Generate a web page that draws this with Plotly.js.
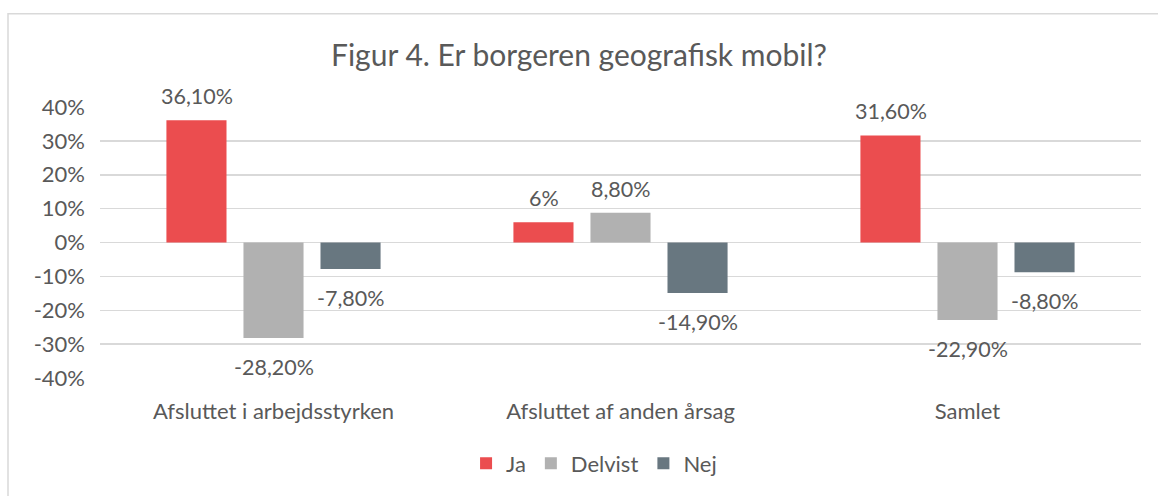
<!DOCTYPE html>
<html>
<head>
<meta charset="utf-8">
<script src="https://cdn.plot.ly/plotly-3.0.1.min.js"></script>
<style>
html,body{margin:0;padding:0;background:#fff;}
#chart{width:1158px;height:496px;}
</style>
</head>
<body>
<div id="chart"></div>
<script>
const categories = ["Afsluttet i arbejdsstyrken", "Afsluttet af anden årsag", "Samlet"];
const seriesNames = ["Ja", "Delvist", "Nej"];
const ja = [36.1, 6, 31.6];
const delvist = [-28.2, 8.8, -22.9];
const nej = [-7.8, -14.9, -8.8];
const jaLabels = ["36,10%", "6%", "31,60%"];
const delvistLabels = ["-28,20%", "8,80%", "-22,90%"];
const nejLabels = ["-7,80%", "-14,90%", "-8,80%"];
const yTicks = [-40, -30, -20, -10, 0, 10, 20, 30, 40];
const yTickLabels = ["-40%", "-30%", "-20%", "-10%", "0%", "10%", "20%", "30%", "40%"];

const colors = ["#EB4D4F", "#B1B1B1", "#687780"];
const values = [ja, delvist, nej];
const labels = [jaLabels, delvistLabels, nejLabels];
const FONT = "Lato, 'Source Sans Pro', sans-serif";
const TXT = "#595959";

const traces = values.map((v, i) => ({
  type: "bar",
  name: seriesNames[i],
  x: categories,
  y: v,
  marker: {color: colors[i]},
  hoverinfo: "none"
}));

const annotations = [];
values.forEach((v, i) => {
  v.forEach((val, j) => {
    annotations.push({
      x: categories[j], y: val, xref: "x", yref: "y",
      text: labels[i][j], showarrow: false,
      xshift: (i - 1) * 77,
      yshift: val >= 0 ? 24 : -29,
      yanchor: "middle",
      font: {family: FONT, size: 21.5, color: TXT}
    });
  });
});

const layout = {
  width: 1158, height: 496,
  margin: {l: 100, r: 17, t: 107, b: 116},
  paper_bgcolor: "#fff", plot_bgcolor: "#fff",
  font: {family: FONT, color: TXT, size: 22},
  title: {text: "Figur 4. Er borgeren geografisk mobil?", font: {family: FONT, size: 30, color: TXT}, x: 0.5, xanchor: "center", y: 1 - 55/496, yanchor: "middle"},
  barmode: "group",
  bargap: 0.334,
  bargroupgap: 0.22,
  showlegend: true,
  legend: {orientation: "h", x: 0.4746, xanchor: "center", y: -0.315, yanchor: "middle", font: {family: FONT, size: 22, color: TXT}, itemclick: false},
  xaxis: {showgrid: false, showline: false, ticks: "", tickfont: {family: FONT, size: 22, color: TXT}, ticklabelstandoff: 18},
  yaxis: {range: [-40, 40], tickvals: yTicks, ticktext: yTickLabels, showgrid: true, gridcolor: "#D9D9D9", gridwidth: 1.5, zeroline: true, zerolinecolor: "#D9D9D9", zerolinewidth: 1.5, showline: false, ticks: "", tickfont: {family: FONT, size: 22, color: TXT}, ticklabelstandoff: 14},
  annotations: annotations,
  shapes: [{type: "rect", xref: "paper", yref: "paper", x0: (8-100)/1041, x1: 1.2, y0: -0.6, y1: (380-13)/273, line: {color: "#D9D9D9", width: 1.5}, fillcolor: "rgba(0,0,0,0)", layer: "below"}]
};

Plotly.newPlot("chart", traces, layout, {displayModeBar: false, staticPlot: true});
</script>
</body>
</html>
